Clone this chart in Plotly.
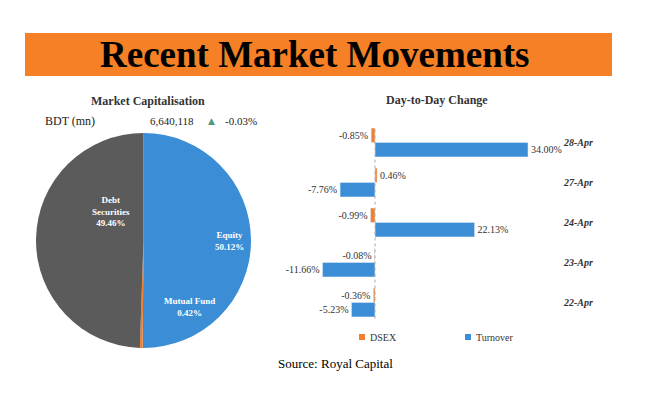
import plotly.graph_objects as go

# ---- data ----
pie_labels = ["Equity", "Mutual Fund", "Debt Securities"]
pie_values = [50.12, 0.42, 49.46]
pie_text = ["Equity<br>50.12%", "Mutual Fund<br>0.42%", "Debt<br>Securities<br>49.46%"]

dates = ["28-Apr", "27-Apr", "24-Apr", "23-Apr", "22-Apr"]
dsex = [-0.85, 0.46, -0.99, -0.08, -0.36]
turnover = [34.00, -7.76, 22.13, -11.66, -5.23]
series_names = ["DSEX", "Turnover"]

mcap_value = "6,640,118"
mcap_change = "-0.03%"

W, H = 645, 398
SERIF = "Liberation Serif"
BLUE = "#3B8ED6"
GRAY = "#5B5B5B"
ORANGE = "#F07F2E"

def px_x(x):
    return x / W

def px_y(y):
    return 1 - y / H

fig = go.Figure()

fig.add_trace(go.Pie(
    labels=pie_labels, values=pie_values, sort=False, direction="clockwise",
    marker=dict(colors=[BLUE, ORANGE, GRAY], line=dict(width=0)),
    textinfo="none", hoverinfo="label+percent", showlegend=False,
    domain=dict(x=[px_x(36), px_x(251)], y=[px_y(348), px_y(133)]),
))

for name, vals, col in zip(series_names, [dsex, turnover], [ORANGE, BLUE]):
    fig.add_trace(go.Bar(
        name=name, y=dates, x=vals, orientation="h", marker_color=col,
        texttemplate="%{x:.2f}%", textposition="outside", cliponaxis=False,
        textfont=dict(family=SERIF, size=10, color="#333333"),
        showlegend=False,
    ))

fig.update_layout(
    width=W, height=H, autosize=False,
    margin=dict(l=0, r=0, t=0, b=0),
    paper_bgcolor="white", plot_bgcolor="white",
    font=dict(family=SERIF, color="#222222"),
    barmode="group", bargap=0.28, bargroupgap=0,
    xaxis=dict(domain=[px_x(312), px_x(555)], range=[-14, 40],
               showgrid=False, zeroline=False, showticklabels=False,
               showline=False, ticks=""),
    yaxis=dict(domain=[px_y(322.5), px_y(122.5)], autorange="reversed",
               side="right", showgrid=False, zeroline=False, showline=False,
               ticks="", ticklabelstandoff=8,
               tickfont=dict(family=SERIF, size=10, color="#333333",
                             weight="bold", style="italic")),
    showlegend=False,
)

shapes = [
    dict(type="rect", xref="paper", yref="paper",
         x0=px_x(25), x1=px_x(612), y0=px_y(76), y1=px_y(33),
         fillcolor="#F58025", line=dict(width=0), layer="below"),
    dict(type="line", xref="x", yref="y domain", x0=0, x1=0, y0=0.02, y1=0.98,
         line=dict(color="#AAAAAA", width=1, dash="dot")),
]

ann = []

def add_text(text, x, y, size, color="#222222", xanchor="center", family=SERIF):
    ann.append(dict(text=text, x=px_x(x), y=px_y(y), xref="paper", yref="paper",
                    xanchor=xanchor, yanchor="middle", showarrow=False,
                    font=dict(family=family, size=size, color=color)))

add_text("<b>Recent Market Movements</b>", 314, 54, 37, "#000000")
add_text("<b>Market Capitalisation</b>", 148, 101, 12, "#333333")
add_text("<b>Day-to-Day Change</b>", 437, 100, 12, "#333333")
add_text("BDT (mn)", 43, 121, 12, xanchor="left")
add_text(mcap_value, 196, 121, 11, xanchor="right")
add_text("▲", 211, 121, 9, "#4E9A7C", family="DejaVu Sans")
add_text(mcap_change, 223, 121, 11, xanchor="left")
add_text("Source: Royal Capital", 335, 363, 13, "#000000")

pie_pos = [(229, 241), (189, 307), (111, 211)]
for t, (x, y) in zip(pie_text, pie_pos):
    add_text("<b>" + t + "</b>", x, y, 9, "#FFFFFF")

# manual legend
legend_pos = [362, 468]
for name, col, lx in zip(series_names, [ORANGE, BLUE], legend_pos):
    shapes.append(dict(type="rect", xref="paper", yref="paper",
                       x0=px_x(lx - 3), x1=px_x(lx + 3),
                       y0=px_y(340), y1=px_y(334),
                       fillcolor=col, line=dict(width=0)))
    add_text(name, lx + 6, 337, 10, "#333333", xanchor="left")

fig.update_layout(shapes=shapes, annotations=ann)

fig.write_html("out.html", config={"displayModeBar": False},
               post_script="document.body.style.margin='0px';")
